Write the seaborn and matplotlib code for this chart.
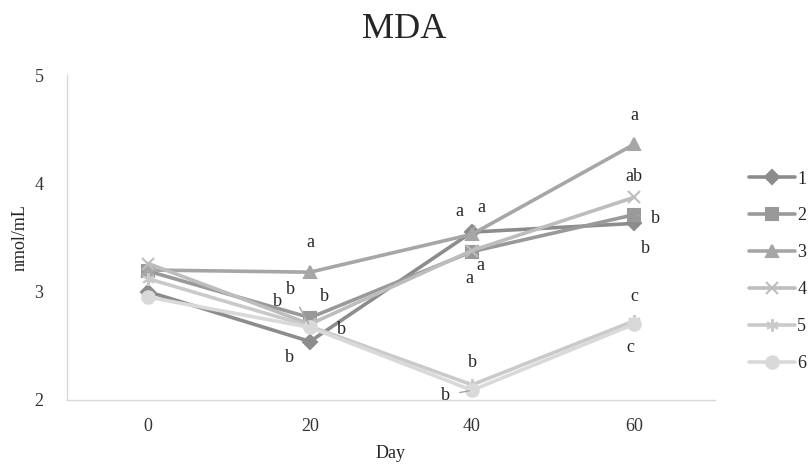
import matplotlib
matplotlib.use("Agg")
import matplotlib.pyplot as plt
import pandas as pd
import seaborn as sns

# data
days = ["0", "20", "40", "60"]
series = ["1", "2", "3", "4", "5", "6"]
s1 = [3.00, 2.54, 3.55, 3.63]
s2 = [3.19, 2.76, 3.37, 3.71]
s3 = [3.20, 3.18, 3.53, 4.36]
s4 = [3.26, 2.70, 3.38, 3.87]
s5 = [3.12, 2.68, 2.14, 2.73]
s6 = [2.95, 2.67, 2.09, 2.70]

# significance letters per series (day 20, 40, 60)
letters1 = ["", "b", "a", "b"]
letters2 = ["", "b", "a", "b"]
letters3 = ["", "a", "a", "a"]
letters4 = ["", "b", "a", "ab"]
letters5 = ["", "b", "b", "c"]
letters6 = ["", "b", "b", "c"]

# label offsets in pixels (dx, dy-up), and which get a leader line
offsets = {
    ("1", 1): (-21, -16), ("1", 2): (-13, 21), ("1", 3): (11, -25),
    ("2", 1): (14, 21), ("2", 2): (8, -14), ("2", 3): (21, -4),
    ("3", 1): (0, 30), ("3", 2): (9, 27), ("3", 3): (0, 29),
    ("4", 1): (-33, 23), ("4", 2): (-3, -28), ("4", 3): (0, 21),
    ("5", 1): (-20, 37), ("5", 2): (0, 22), ("5", 3): (0, 24),
    ("6", 1): (31, -2), ("6", 2): (-27, -5), ("6", 3): (-4, -23),
}
leaders = {("5", 1), ("3", 2), ("2", 3), ("6", 2)}

values = [s1, s2, s3, s4, s5, s6]
letters = [letters1, letters2, letters3, letters4, letters5, letters6]

rows = []
for name, vals in zip(series, values):
    for i, v in enumerate(vals):
        rows.append({"pos": i, "Day": days[i], "value": v, "series": name})
df = pd.DataFrame(rows)

palette = {"1": "#8c8c8c", "2": "#999999", "3": "#a6a6a6",
           "4": "#bdbdbd", "5": "#cacaca", "6": "#d9d9d9"}
markers = {"1": "D", "2": "s", "3": "^", "4": "x", "5": (6, 2, 0), "6": "o"}
msize = {"1": 7, "2": 8, "3": 9, "4": 9, "5": 9, "6": 9}

sns.set_theme(style="white")
plt.rcParams["font.family"] = ["Liberation Serif", "DejaVu Serif"]

fig = plt.figure(figsize=(8.08, 4.66), dpi=100)
ax = fig.add_axes([67 / 808, 1 - 400 / 466, (715 - 67) / 808, (400 - 75) / 466])

for name in series:
    sub = df[df["series"] == name]
    sns.lineplot(data=sub, x="pos", y="value", ax=ax, color=palette[name],
                 marker=markers[name], markersize=msize[name], linewidth=2.6,
                 markeredgecolor=palette[name], markeredgewidth=1.5,
                 label=name, sort=False)

for name, vals, labs in zip(series, values, letters):
    for i, (v, t) in enumerate(zip(vals, labs)):
        if not t:
            continue
        dx, dy = offsets[(name, i)]
        arrow = None
        if (name, i) in leaders:
            arrow = dict(arrowstyle="-", color="#a6a6a6", lw=1, shrinkA=5, shrinkB=2)
        ax.annotate(t, (i, v), xytext=(dx, dy), textcoords="offset pixels",
                    ha="center", va="center", fontsize=13, color="#262626",
                    arrowprops=arrow)

ax.set_xlim(-0.5, 3.5)
ax.set_ylim(2, 5)
ax.set_xticks(range(len(days)))
ax.set_xticklabels(days)
ax.set_yticks([2, 3, 4, 5])
ax.tick_params(axis="both", length=0, labelsize=13, colors="#333333")
ax.tick_params(axis="x", pad=13)
ax.tick_params(axis="y", pad=17)
for side in ["top", "right"]:
    ax.spines[side].set_visible(False)
for side in ["left", "bottom"]:
    ax.spines[side].set_color("#d9d9d9")
    ax.spines[side].set_linewidth(1)

ax.set_xlabel("Day", fontsize=13, color="#262626", labelpad=7)
ax.set_ylabel("nmol/mL", fontsize=13, color="#262626", labelpad=4)
fig.text(0.5, 1 - 30 / 466, "MDA", ha="center", va="center", fontsize=26, color="#262626")

leg = ax.legend(loc="center left", bbox_to_anchor=(0.913, 0.418),
                bbox_transform=fig.transFigure, frameon=False, fontsize=13,
                handlelength=2.6, handletextpad=0.1, labelspacing=1.1,
                borderpad=0.3, borderaxespad=0.3)
for t in leg.get_texts():
    t.set_color("#262626")

fig.savefig("out.png", dpi=100)
